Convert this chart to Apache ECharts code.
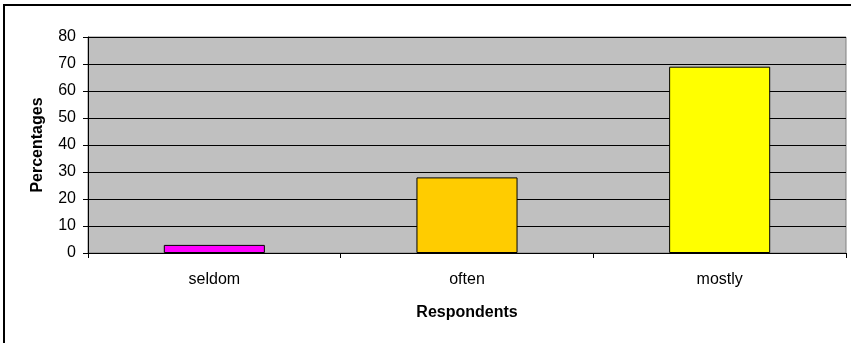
<!DOCTYPE html>
<html>
<head>
<meta charset="utf-8">
<script src="https://cdn.jsdelivr.net/npm/echarts@6/dist/echarts.min.js"></script>
<style>
  html, body { margin: 0; padding: 0; background: #fff; }
  #wrap { position: relative; width: 851px; height: 343px; overflow: hidden; }
  #frame { position: absolute; left: 3px; top: 4px; width: 900px; height: 400px; border-left: 2px solid #000; border-top: 2px solid #000; box-sizing: border-box; }
  #chart { position: absolute; left: 0; top: 0; width: 851px; height: 343px; }
</style>
</head>
<body>
<div id="wrap">
  <div id="frame"></div>
  <div id="chart"></div>
</div>
<script>
// Frequency categories and the share of respondents in each (%)
const categories = ['seldom', 'often', 'mostly'];
const percentages = [3, 28, 69];
const barColors = ['#FF00FF', '#FFCC00', '#FFFF00'];
const yTicks = { min: 0, max: 80, interval: 10 };

const chart = echarts.init(document.getElementById('chart'), null, { renderer: 'canvas' });
const font = '"Liberation Sans", Arial, sans-serif';

chart.setOption({
  animation: false,
  grid: {
    left: 88, right: 5, top: 37, bottom: 90,
    show: true, backgroundColor: '#C0C0C0', borderColor: '#808080', borderWidth: 1
  },
  xAxis: {
    type: 'category',
    data: categories,
    name: 'Respondents',
    nameLocation: 'middle',
    nameGap: 52,
    nameTextStyle: { fontFamily: font, fontSize: 16, fontWeight: 'bold', color: '#000' },
    axisLine: { lineStyle: { color: '#000', width: 1 } },
    axisTick: { show: true, length: 5, alignWithLabel: false, lineStyle: { color: '#000' } },
    axisLabel: { fontFamily: font, fontSize: 16, color: '#000', margin: 19 },
    splitLine: { show: false }
  },
  yAxis: {
    type: 'value',
    min: yTicks.min, max: yTicks.max, interval: yTicks.interval,
    name: 'Percentages',
    nameLocation: 'middle',
    nameGap: 42,
    nameTextStyle: { fontFamily: font, fontSize: 16, fontWeight: 'bold', color: '#000' },
    axisLine: { show: true, lineStyle: { color: '#000', width: 1 } },
    axisTick: { show: true, length: 5, lineStyle: { color: '#000' } },
    axisLabel: { fontFamily: font, fontSize: 16, color: '#000', margin: 12 },
    splitLine: { show: true, lineStyle: { color: '#000', width: 1 } }
  },
  series: [{
    type: 'bar',
    data: percentages.map((v, i) => ({ value: v, itemStyle: { color: barColors[i] } })),
    barWidth: '40%',
    itemStyle: { borderColor: '#000', borderWidth: 1 }
  }]
});
</script>
</body>
</html>
